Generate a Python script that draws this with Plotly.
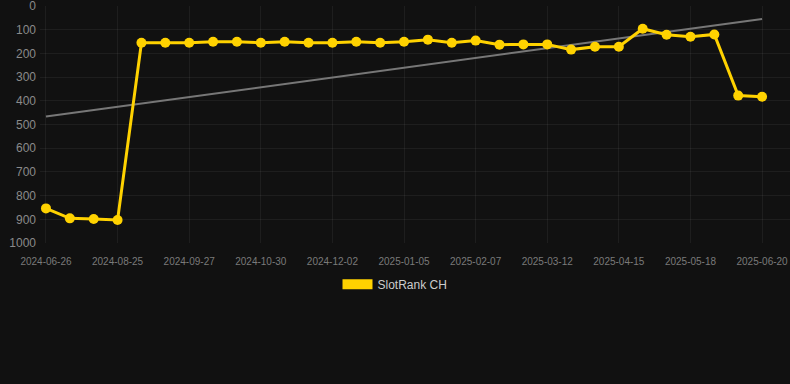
import numpy as np
import plotly.graph_objects as go

dates = [
    "2024-06-26", "2024-07-16", "2024-08-05", "2024-08-25", "2024-09-05", "2024-09-16",
    "2024-09-27", "2024-10-08", "2024-10-19", "2024-10-30", "2024-11-10", "2024-11-21",
    "2024-12-02", "2024-12-13", "2024-12-24", "2025-01-05", "2025-01-16", "2025-01-27",
    "2025-02-07", "2025-02-18", "2025-03-01", "2025-03-12", "2025-03-23", "2025-04-04",
    "2025-04-15", "2025-04-26", "2025-05-07", "2025-05-18", "2025-05-29", "2025-06-09",
    "2025-06-20",
]
rank_ch = [
    854, 896, 899, 903, 155, 155, 155, 151, 151, 155, 151, 155, 155, 151, 155, 151,
    142, 155, 146, 163, 162, 162, 184, 172, 172, 96, 121, 130, 120, 378, 383,
]
tick_labels = dates[::3]
y_ticks = [0, 100, 200, 300, 400, 500, 600, 700, 800, 900, 1000]
series_name = "SlotRank CH"

idx = np.arange(len(rank_ch))
slope, intercept = np.polyfit(idx, rank_ch, 1)
trend = slope * idx + intercept

gold = "#FFD200"
fig = go.Figure()
fig.add_trace(go.Scatter(
    x=dates, y=trend, mode="lines", line=dict(color="#777777", width=2),
    showlegend=False, hoverinfo="skip"))
fig.add_trace(go.Scatter(
    x=dates, y=rank_ch, mode="lines+markers", name=series_name,
    line=dict(color=gold, width=3), marker=dict(color=gold, size=10),
    showlegend=False))
fig.add_trace(go.Scatter(
    x=[None], y=[None], mode="lines", name=series_name,
    line=dict(color=gold, width=12), showlegend=True))

grid = "rgba(255,255,255,0.055)"
fig.update_layout(
    width=790, height=384,
    paper_bgcolor="#111111", plot_bgcolor="#111111",
    margin=dict(l=40, r=0, t=6, b=141),
    font=dict(family="Liberation Sans, Arial, sans-serif"),
    xaxis=dict(
        type="category", categoryorder="array", categoryarray=dates,
        range=[-0.25, 31.17], tickmode="array", tickvals=tick_labels,
        ticktext=tick_labels, tickfont=dict(size=10, color="#7a7a7a"),
        showgrid=True, gridcolor=grid, zeroline=False, showline=False,
        ticks="outside", ticklen=9, tickcolor="rgba(0,0,0,0)",
        ticklabeloverflow="allow"),
    yaxis=dict(
        range=[1000, 0], tickmode="array", tickvals=y_ticks,
        tickfont=dict(size=12, color="#8a8a8a"), showgrid=True, gridcolor=grid,
        zeroline=False, showline=False, ticks="", ticklabelstandoff=3,
        ticklabeloverflow="allow"),
    legend=dict(
        orientation="h", xref="container", yref="container",
        x=0.5, xanchor="center", y=0.26, yanchor="middle",
        font=dict(size=12, color="#cccccc"), bgcolor="rgba(0,0,0,0)"),
    showlegend=True,
)
fig.write_html("out.html", config={"displayModeBar": False},
               post_script="document.body.style.margin='0';document.body.style.background='#111111';")
